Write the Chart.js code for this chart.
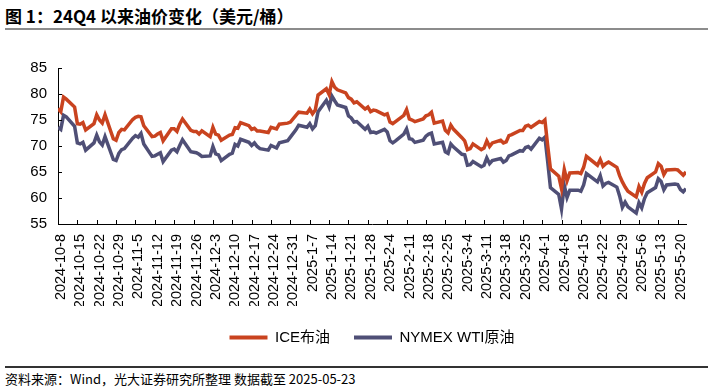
<!DOCTYPE html>
<html>
<head>
<meta charset="utf-8">
<script src="https://cdn.jsdelivr.net/npm/chart.js@4.4.1/dist/chart.umd.min.js"></script>
<style>
  html, body { margin: 0; padding: 0; background: #fff; }
  body { width: 713px; height: 390px; position: relative; overflow: hidden; }
  .title { position: absolute; left: 5px; top: 3px; font: bold 17px 'Noto Sans CJK SC', sans-serif; color: #000; white-space: nowrap; }
  .rule-top { position: absolute; left: 5px; top: 28px; width: 703px; height: 2px; background: #8c8c8c; }
  .rule-bottom { position: absolute; left: 5px; top: 366px; width: 703px; height: 1.5px; background: #333; }
  .source { position: absolute; left: 5px; top: 369px; font: 13px 'Noto Sans CJK SC', sans-serif; color: #000; white-space: nowrap; }
  .chart-box { position: absolute; left: 0; top: 40px; width: 713px; height: 320px; }
</style>
</head>
<body>
<div class="title">图 1：24Q4 以来油价变化（美元/桶）</div>
<div class="rule-top"></div>
<div class="chart-box"><canvas id="oil-chart"></canvas></div>
<div class="rule-bottom"></div>
<div class="source">资料来源：Wind，光大证券研究所整理 数据截至 2025-05-23</div>
<script>
// trading days
var tradeDays = [
  '2024-10-08','2024-10-09','2024-10-10','2024-10-11','2024-10-14','2024-10-15','2024-10-16','2024-10-17','2024-10-18',
  '2024-10-21','2024-10-22','2024-10-23','2024-10-24','2024-10-25','2024-10-28','2024-10-29','2024-10-30','2024-10-31',
  '2024-11-01','2024-11-04','2024-11-05','2024-11-06','2024-11-07','2024-11-08','2024-11-11','2024-11-12','2024-11-13',
  '2024-11-14','2024-11-15','2024-11-18','2024-11-19','2024-11-20','2024-11-21','2024-11-22','2024-11-25','2024-11-26',
  '2024-11-27','2024-11-28','2024-11-29',
  '2024-12-02','2024-12-03','2024-12-04','2024-12-05','2024-12-06','2024-12-09','2024-12-10','2024-12-11','2024-12-12',
  '2024-12-13','2024-12-16','2024-12-17','2024-12-18','2024-12-19','2024-12-20','2024-12-23','2024-12-24','2024-12-26',
  '2024-12-27','2024-12-30','2024-12-31',
  '2025-01-02','2025-01-03','2025-01-06','2025-01-07','2025-01-08','2025-01-09','2025-01-10','2025-01-13','2025-01-14',
  '2025-01-15','2025-01-16','2025-01-17','2025-01-20','2025-01-21','2025-01-22','2025-01-23','2025-01-24','2025-01-27',
  '2025-01-28','2025-01-29','2025-01-30','2025-01-31',
  '2025-02-03','2025-02-04','2025-02-05','2025-02-06','2025-02-07','2025-02-10','2025-02-11','2025-02-12','2025-02-13',
  '2025-02-14','2025-02-17','2025-02-18','2025-02-19','2025-02-20','2025-02-21','2025-02-24','2025-02-25','2025-02-26',
  '2025-02-27','2025-02-28',
  '2025-03-03','2025-03-04','2025-03-05','2025-03-06','2025-03-07','2025-03-10','2025-03-11','2025-03-12','2025-03-13',
  '2025-03-14','2025-03-17','2025-03-18','2025-03-19','2025-03-20','2025-03-21','2025-03-24','2025-03-25','2025-03-26',
  '2025-03-27','2025-03-28','2025-03-31',
  '2025-04-01','2025-04-02','2025-04-03','2025-04-04','2025-04-07','2025-04-08','2025-04-09','2025-04-10','2025-04-11',
  '2025-04-14','2025-04-15','2025-04-16','2025-04-17','2025-04-21','2025-04-22','2025-04-23','2025-04-24','2025-04-25',
  '2025-04-28','2025-04-29','2025-04-30',
  '2025-05-01','2025-05-02','2025-05-05','2025-05-06','2025-05-07','2025-05-08','2025-05-09','2025-05-12','2025-05-13',
  '2025-05-14','2025-05-15','2025-05-16','2025-05-19','2025-05-20','2025-05-21','2025-05-22','2025-05-23'
];

// ICE布油
var brent = [
  77.2, 76.6, 79.4, 79.0, 77.5, 74.3, 74.2, 74.5, 73.1, 74.3, 76.0, 75.0, 74.4, 76.0, 71.4, 71.1, 72.6, 73.2,
  73.1, 75.1, 75.5, 75.7, 75.6, 73.9, 71.8, 71.9, 72.3, 72.6, 71.0, 73.3, 73.3, 72.8, 74.2, 75.2, 73.0, 72.8, 72.8, 72.3, 72.9,
  71.8, 73.6, 72.3, 72.1, 71.1, 72.1, 72.2, 73.5, 73.4, 74.5, 73.9, 73.2, 73.4, 72.9, 72.9, 72.6, 73.6, 73.3, 74.2, 74.4, 74.6,
  75.9, 76.5, 76.3, 77.1, 76.2, 76.9, 79.8, 81.0, 79.9, 82.4, 81.3, 80.8, 80.2, 79.3, 79.0, 78.3, 78.5, 77.1, 77.5, 76.6, 76.9, 76.8,
  76.0, 76.2, 74.6, 74.3, 74.7, 75.9, 77.0, 75.2, 75.0, 74.7, 75.2, 75.8, 76.0, 76.5, 74.4, 74.8, 73.0, 72.5, 74.0, 73.2,
  71.6, 71.0, 69.3, 69.5, 70.4, 69.3, 69.6, 71.0, 69.9, 70.6, 71.1, 70.6, 70.8, 72.0, 72.2, 73.0, 73.0, 73.8, 74.0, 73.6, 74.7,
  74.5, 75.0, 70.1, 65.6, 64.2, 61.8, 65.5, 63.3, 64.8, 64.9, 64.7, 65.9, 68.0, 66.3, 67.4, 66.1, 66.6, 66.9, 65.9, 64.3, 63.1,
  62.1, 61.3, 60.2, 62.2, 61.1, 62.8, 63.9, 65.0, 66.6, 66.1, 64.5, 65.4, 65.5, 65.4, 64.9, 64.4, 65.0
];

// NYMEX WTI原油
var wti = [
  73.6, 73.2, 75.9, 75.6, 73.8, 70.6, 70.4, 70.7, 69.2, 70.6, 72.1, 70.8, 70.2, 71.8, 67.4, 67.2, 68.6, 69.3,
  69.5, 71.5, 72.0, 71.7, 72.4, 70.4, 68.0, 68.1, 68.4, 68.7, 67.0, 69.2, 69.4, 68.9, 70.1, 71.2, 68.9, 68.8, 68.7, 68.4, 68.0,
  68.1, 69.9, 68.5, 68.3, 67.2, 68.4, 68.6, 70.3, 70.0, 71.3, 70.7, 70.1, 70.6, 69.9, 69.5, 69.2, 70.1, 69.6, 70.6, 71.0, 71.7,
  73.1, 74.0, 73.6, 74.3, 73.3, 73.9, 76.6, 78.8, 77.5, 79.6, 78.7, 77.9, 77.4, 75.8, 75.4, 74.6, 74.7, 73.2, 73.8, 72.6, 72.7, 72.5,
  73.2, 72.7, 71.0, 70.6, 71.0, 72.3, 73.3, 71.4, 71.3, 70.7, 71.1, 71.9, 72.3, 72.5, 70.4, 70.7, 68.9, 68.6, 70.4, 69.8,
  68.4, 68.3, 66.3, 66.4, 67.0, 66.0, 66.3, 67.7, 66.6, 67.2, 67.6, 66.9, 67.2, 68.1, 68.3, 69.1, 69.0, 69.7, 69.9, 69.4, 71.5,
  71.2, 71.7, 67.0, 62.0, 60.7, 57.9, 62.4, 60.1, 61.5, 61.5, 61.3, 62.5, 64.7, 63.1, 64.3, 62.3, 62.8, 63.0, 62.1, 60.4, 58.2,
  59.2, 58.3, 57.1, 59.1, 58.1, 59.9, 61.0, 62.0, 63.7, 63.2, 61.6, 62.5, 62.7, 62.6, 61.6, 61.2, 61.8
];

var tickDates = [
  '2024-10-8','2024-10-15','2024-10-22','2024-10-29','2024-11-5','2024-11-12','2024-11-19','2024-11-26',
  '2024-12-3','2024-12-10','2024-12-17','2024-12-24','2024-12-31','2025-1-7','2025-1-14','2025-1-21',
  '2025-1-28','2025-2-4','2025-2-11','2025-2-18','2025-2-25','2025-3-4','2025-3-11','2025-3-18',
  '2025-3-25','2025-4-1','2025-4-8','2025-4-15','2025-4-22','2025-4-29','2025-5-6','2025-5-13','2025-5-20'
];
var yTicks = [55, 60, 65, 70, 75, 80, 85];

var seriesNames = ['ICE布油', 'NYMEX WTI原油'];
var seriesColors = ['#c9431f', '#4f4f76'];

var DAY = 86400000;
var startDay = Date.UTC(2024, 9, 8);
function dayOf(s) {
  var p = s.split('-');
  return Math.round((Date.UTC(+p[0], +p[1] - 1, +p[2]) - startDay) / DAY);
}
function dateLabel(v) {
  var d = new Date(startDay + v * DAY);
  return d.getUTCFullYear() + '-' + (d.getUTCMonth() + 1) + '-' + d.getUTCDate();
}
function toPoints(values) {
  return values.map(function (v, i) { return {x: dayOf(tradeDays[i]), y: v}; });
}

var font = "'Liberation Sans', Arial, 'Noto Sans CJK SC', sans-serif";

// ticks drawn inward from the axes
var innerTicks = {
  id: 'innerTicks',
  afterDatasetsDraw: function (chart) {
    var ctx = chart.ctx, xs = chart.scales.x, ys = chart.scales.y, a = chart.chartArea;
    ctx.save();
    ctx.strokeStyle = '#000';
    ctx.lineWidth = 1;
    ctx.beginPath();
    xs.ticks.forEach(function (t) {
      var px = Math.round(xs.getPixelForValue(t.value)) + 0.5;
      ctx.moveTo(px, a.bottom);
      ctx.lineTo(px, a.bottom - 4);
    });
    ys.ticks.forEach(function (t) {
      var py = Math.round(ys.getPixelForValue(t.value)) + 0.5;
      ctx.moveTo(a.left, py);
      ctx.lineTo(a.left + 4, py);
    });
    ctx.stroke();
    ctx.restore();
  }
};

new Chart(document.getElementById('oil-chart'), {
  type: 'line',
  data: {
    datasets: [
      {label: seriesNames[0], data: toPoints(brent), borderColor: seriesColors[0], backgroundColor: seriesColors[0],
       borderWidth: 3.5, pointRadius: 0, tension: 0},
      {label: seriesNames[1], data: toPoints(wti), borderColor: seriesColors[1], backgroundColor: seriesColors[1],
       borderWidth: 3.5, pointRadius: 0, tension: 0}
    ]
  },
  options: {
    responsive: true,
    maintainAspectRatio: false,
    animation: false,
    events: [],
    layout: {padding: {top: 28, right: 27, left: 0, bottom: 5}},
    scales: {
      x: {
        type: 'linear',
        min: 0,
        max: dayOf('2025-05-23'),
        afterFit: function (s) { s.height = 82; },
        afterBuildTicks: function (s) {
          s.ticks = tickDates.map(function (d) { return {value: dayOf(d)}; });
        },
        grid: {display: false, drawTicks: false},
        border: {display: true, color: '#000', width: 1},
        ticks: {
          autoSkip: false,
          minRotation: 90,
          maxRotation: 90,
          padding: 10,
          labelOffset: 3,
          color: '#000',
          font: {family: font, size: 14.5},
          callback: function (v) { return dateLabel(v); }
        }
      },
      y: {
        min: 55,
        max: 85,
        afterFit: function (s) { s.width = 58; },
        afterBuildTicks: function (s) {
          s.ticks = yTicks.map(function (v) { return {value: v}; });
        },
        grid: {display: false, drawTicks: false},
        border: {display: true, color: '#000', width: 1},
        ticks: {
          padding: 11,
          color: '#000',
          font: {family: font, size: 15}
        }
      }
    },
    plugins: {
      tooltip: {enabled: false},
      legend: {
        position: 'bottom',
        fullSize: false,
        labels: {
          boxWidth: 38,
          boxHeight: 4,
          padding: 24,
          color: '#000',
          font: {family: font, size: 15},
          generateLabels: function (chart) {
            return Chart.defaults.plugins.legend.labels.generateLabels(chart).map(function (it) {
              it.lineWidth = 0;
              return it;
            });
          }
        }
      }
    }
  },
  plugins: [innerTicks]
});
</script>
</body>
</html>
